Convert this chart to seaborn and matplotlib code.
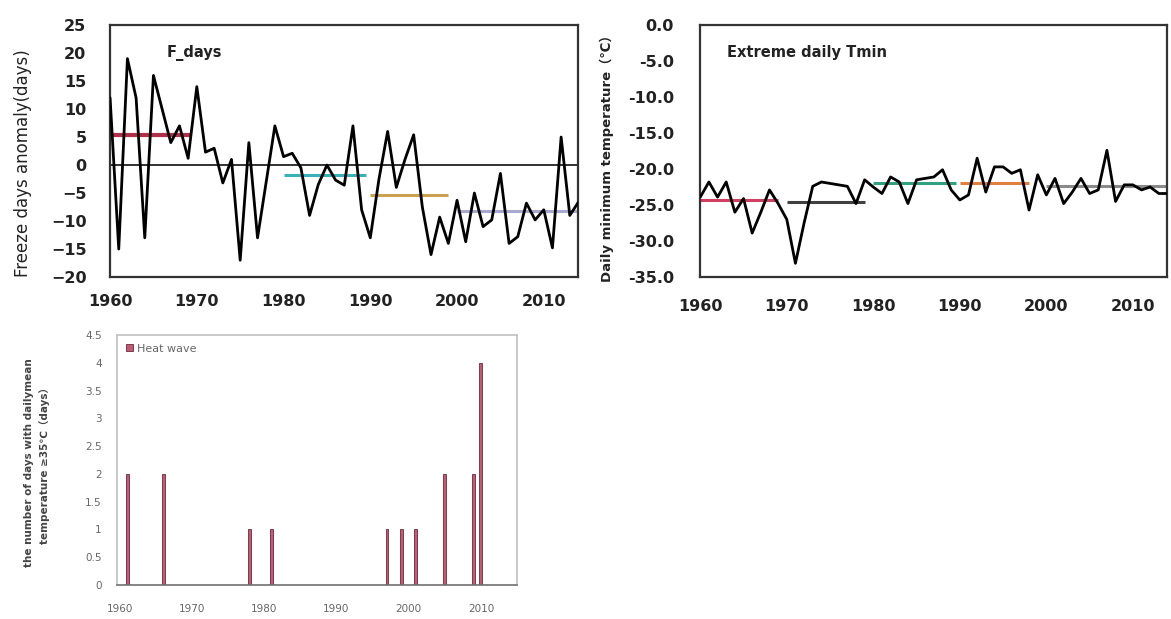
import numpy as np
import pandas as pd
import seaborn as sns
import matplotlib.pyplot as plt
from matplotlib.ticker import MultipleLocator

# --- data ---
years = list(range(1960, 2015))

freeze_anom = [12, -15, 19, 12, -13, 16, 10, 4, 7, 1.2,
               14, 2.3, 3, -3.2, 1, -17, 4, -13, -3, 7,
               1.5, 2.1, -0.5, -9, -3.5, 0, -2.7, -3.6, 7, -8,
               -13, -2.5, 6, -4, 1, 5.4, -7.5, -16, -9.3, -14,
               -6.3, -13.7, -5, -11, -9.8, -1.5, -14, -12.8, -6.8, -9.8,
               -8, -14.8, 5, -9, -6.6]

tmin_extreme = [-23.9, -21.8, -23.9, -21.8, -26, -24.1, -28.9, -26, -22.9, -24.8,
                -27, -33.1, -27.5, -22.4, -21.8, -22, -22.2, -22.4, -24.8, -21.5,
                -22.5, -23.4, -21.1, -21.8, -24.8, -21.5, -21.3, -21.1, -20.1, -22.9,
                -24.3, -23.6, -18.5, -23.2, -19.7, -19.7, -20.6, -20.1, -25.7, -20.8,
                -23.6, -21.3, -24.8, -23.2, -21.3, -23.4, -22.9, -17.4, -24.5, -22.2,
                -22.2, -22.9, -22.5, -23.4, -23.4]

# decade means (start, end, value)
fd_start = [1960, 1980, 1990, 2000]
fd_end = [1969.5, 1989.5, 1999, 2014]
fd_mean = [5.4, -1.8, -5.4, -8.2]
fd_colors = ['#b0304a', '#3ab0b8', '#c8a050', '#a8a8d0']

tn_start = [1960, 1970, 1980, 1990, 2000]
tn_end = [1969, 1979, 1989.5, 1998, 2014]
tn_mean = [-24.3, -24.6, -22.0, -21.9, -22.3]
tn_colors = ['#d04060', '#404040', '#30a080', '#e08040', '#8a8a8a']

heat_years = [1961, 1966, 1978, 1981, 1997, 1999, 2001, 2005, 2009, 2010]
heat_days = [2, 2, 1, 1, 1, 1, 1, 2, 2, 4]

# --- figure ---
sns.set_style('white')
plt.rcParams['font.family'] = ['DejaVu Sans', 'Noto Sans CJK SC']

fig = plt.figure(figsize=(11.71, 6.19), dpi=100)
ax1 = fig.add_axes([0.094, 0.5525, 0.400, 0.407])
ax2 = fig.add_axes([0.598, 0.5525, 0.399, 0.407])
ax3 = fig.add_axes([0.0999, 0.0549, 0.3416, 0.404])

fd = pd.DataFrame({'year': years, 'value': freeze_anom})
tn = pd.DataFrame({'year': years, 'value': tmin_extreme})
hw = pd.DataFrame({'year': heat_years, 'days': heat_days})

# panel 1: freeze days anomaly
ax1.axhline(0, color='#222222', lw=1.3, zorder=1)
ax1.hlines(fd_mean, fd_start, fd_end, colors=fd_colors, lw=[3, 2.2, 2.2, 2.2], zorder=2)
sns.lineplot(data=fd, x='year', y='value', ax=ax1, color='black', lw=2, zorder=3)
ax1.set_xlim(1960, 2014)
ax1.set_ylim(-20, 25)
ax1.yaxis.set_major_locator(MultipleLocator(5))
ax1.xaxis.set_major_locator(MultipleLocator(10))
ax1.tick_params(axis='y', direction='in', length=6, pad=17, labelsize=11.5, colors='#222222')
ax1.tick_params(axis='x', direction='in', length=0, pad=12, labelsize=11.5, colors='#222222')
ax1.set_xlabel('')
ax1.set_ylabel('')
ax1.text(0.12, 0.89, 'F_days', transform=ax1.transAxes, fontsize=10.5,
         fontweight='bold', color='#222222', va='center')

# panel 2: extreme daily Tmin
ax2.hlines(tn_mean, tn_start, tn_end, colors=tn_colors, lw=2.2, zorder=2)
sns.lineplot(data=tn, x='year', y='value', ax=ax2, color='black', lw=2, zorder=3)
ax2.set_xlim(1960, 2014)
ax2.set_ylim(-35, 0)
ax2.yaxis.set_major_locator(MultipleLocator(5))
ax2.yaxis.set_major_formatter(lambda v, p: f'{v:.1f}')
ax2.xaxis.set_major_locator(MultipleLocator(10))
ax2.xaxis.set_minor_locator(MultipleLocator(2))
ax2.tick_params(axis='y', direction='in', length=6, pad=19, labelsize=11.5, colors='#222222')
ax2.tick_params(axis='x', which='major', direction='inout', length=8, pad=12,
                labelsize=11.5, colors='#222222')
ax2.tick_params(axis='x', which='minor', direction='in', length=4, colors='#222222')
ax2.set_xlabel('')
ax2.set_ylabel('')
ax2.text(0.058, 0.89, 'Extreme daily Tmin', transform=ax2.transAxes, fontsize=10.5,
         fontweight='bold', color='#222222', va='center')

for ax in (ax1, ax2):
    for s in ax.spines.values():
        s.set_color('#333333')
        s.set_linewidth(1.6)
    for lab in ax.get_xticklabels() + ax.get_yticklabels():
        lab.set_fontweight('bold')

# panel 3: heat wave days
sns.barplot(data=hw, x='year', y='days', ax=ax3, native_scale=True, width=0.4,
            color='#d04a6a', edgecolor='#6a2a3a', linewidth=0.6, errorbar=None,
            label='Heat wave', zorder=2)
ax3.set_xlim(1959.6, 2015)
ax3.set_ylim(0, 4.5)
ax3.yaxis.set_major_locator(MultipleLocator(0.5))
ax3.yaxis.set_major_formatter(lambda v, p: f'{v:g}')
ax3.xaxis.set_major_locator(MultipleLocator(10))
ax3.tick_params(axis='both', direction='out', length=3, labelsize=7.5,
                colors='#777777', labelcolor='#666666')
ax3.tick_params(axis='x', pad=11)
ax3.tick_params(axis='y', pad=8)
ax3.set_xlabel('')
ax3.set_ylabel('')
for s in ax3.spines.values():
    s.set_color('#c0c0c0')
    s.set_linewidth(1.2)
ax3.spines['bottom'].set_color('#707070')
leg = ax3.legend(loc='upper left', frameon=False, fontsize=8, handlelength=0.6,
                 handleheight=0.6, handletextpad=0.4, borderaxespad=0.4)
for t in leg.get_texts():
    t.set_color('#666666')

# y labels placed on the figure
fig.text(23 / 1171, 1 - 163 / 619, 'Freeze days anomaly(days)', rotation=90,
         ha='center', va='center', fontsize=12, color='#222222')
fig.text(607 / 1171, 1 - 155 / 619, 'Daily minimum temperature（℃）', rotation=90,
         ha='center', va='center', fontsize=9.5, fontweight='bold', color='#222222')
fig.text(37 / 1171, 1 - 463 / 619,
         'the number of days with dailymean\ntemperature ≥35℃（days）',
         rotation=90, ha='center', va='center', fontsize=7.5, fontweight='bold',
         color='#444444', multialignment='center', linespacing=1.6)

fig.savefig('out.png', dpi=100, facecolor='white')
